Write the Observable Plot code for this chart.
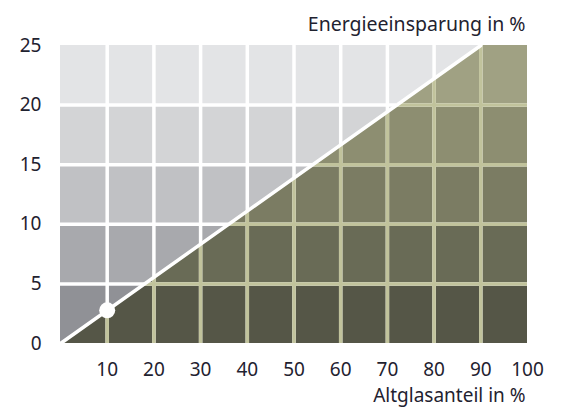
<!DOCTYPE html>
<html>
<head>
<meta charset="utf-8">
<script src="https://cdn.jsdelivr.net/npm/d3@7"></script>
<script src="https://cdn.jsdelivr.net/npm/@observablehq/plot@0.6"></script>
<style>
  html, body { margin: 0; padding: 0; background: #fff; }
  svg { font-family: "Noto Sans", sans-serif; }
</style>
</head>
<body>
<div id="chart"></div>
<script>
// Data
const xTicks = [10, 20, 30, 40, 50, 60, 70, 80, 90, 100];
const yTicks = [0, 5, 10, 15, 20, 25];
const xCols = [0, 10, 20, 30, 40, 50, 60, 70, 80, 90];       // column starts
const yRows = [0, 5, 10, 15, 20];                              // row starts
const grayColors  = ["#909196", "#a8a9ad", "#c0c1c4", "#d3d4d6", "#e3e4e6"];
const oliveColors = ["#555647", "#696b56", "#7b7c63", "#8d8e71", "#a0a183"];
// Line: Altglasanteil (%) -> Energieeinsparung (%)
const lineX = [0, 90];
const lineY = [0, 25];
const markerX = [10];
const markerY = [2.78];

const slope = (lineY[1] - lineY[0]) / (lineX[1] - lineX[0]);
const xAt = y => y / slope;

const cells = [];
yRows.forEach((y, i) => xCols.forEach(x => cells.push({x1: x, x2: x + 10, y1: y, y2: y + 5, fill: grayColors[i]})));

const olive = [];
yRows.forEach((y, i) => {
  [y, y + 5].forEach(yy => olive.push({row: i, y: yy, x1: Math.min(100, xAt(yy)), x2: 100, fill: oliveColors[i]}));
});

const vGrid = xCols.slice(1);
const hGrid = yRows.slice(1);

const lineData = lineX.map((x, i) => ({x, y: lineY[i]}));

const plot = Plot.plot({
  width: 565,
  height: 409,
  marginLeft: 60,
  marginRight: 38,
  marginTop: 45,
  marginBottom: 66,
  style: {fontSize: "19px", color: "#1f2230", fontFamily: "'Noto Sans', sans-serif"},
  x: {domain: [0, 100], ticks: xTicks, tickSize: 0, tickPadding: 19, label: null},
  y: {domain: [0, 25], ticks: yTicks, tickSize: 0, tickPadding: 19, label: null},
  marks: [
    Plot.rect(cells, {x1: "x1", x2: "x2", y1: "y1", y2: "y2", fill: "fill"}),
    Plot.areaX(olive, {y: "y", x1: "x1", x2: "x2", z: "row", fill: "fill"}),
    // white grid lines (gray part)
    Plot.ruleX(vGrid, {stroke: "white", strokeWidth: 3.5}),
    Plot.ruleY(hGrid, {stroke: "white", strokeWidth: 3.5}),
    // olive-light grid lines (below the line)
    Plot.ruleX(vGrid, {y1: 0, y2: d => Math.min(25, d * slope), stroke: "#c1c39c", strokeWidth: 3.5}),
    Plot.ruleY(hGrid, {x1: d => xAt(d), x2: 100, stroke: "#c1c39c", strokeWidth: 3.5}),
    // diagonal line
    Plot.line(lineData, {x: "x", y: "y", stroke: "white", strokeWidth: 3.5}),
    Plot.dot(markerX.map((x, i) => ({x, y: markerY[i]})), {x: "x", y: "y", r: 8, fill: "white"}),
    Plot.text(["Energieeinsparung in %"], {frameAnchor: "top-right", dy: -28, dx: -2, textAnchor: "end", fontSize: 19.5, fill: "#1f2230"}),
    Plot.text(["Altglasanteil in %"], {frameAnchor: "bottom-right", dy: 58, dx: -2, textAnchor: "end", fontSize: 19, fill: "#1f2230"})
  ]
});
document.getElementById("chart").appendChild(plot);
</script>
</body>
</html>
